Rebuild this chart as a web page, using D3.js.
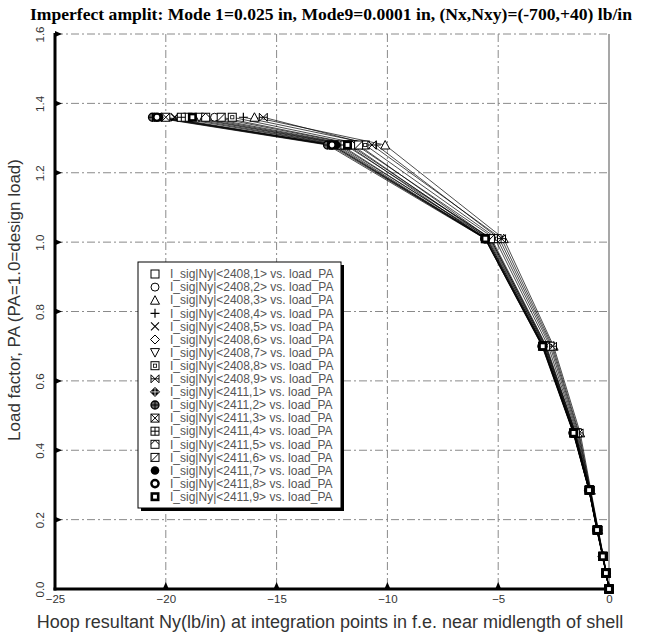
<!DOCTYPE html>
<html><head><meta charset="utf-8">
<script src="https://cdn.jsdelivr.net/npm/d3@7"></script>
<style>body{margin:0;background:#fff}svg{display:block}</style>
</head><body>
<script>
// ---- data ----
const titleText = "Imperfect amplit: Mode 1=0.025 in, Mode9=0.0001 in, (Nx,Nxy)=(-700,+40) lb/in";
const xLabel = "Hoop resultant Ny(lb/in) at integration points in f.e. near midlength of shell";
const yLabel = "Load factor, PA (PA=1.0=design load)";
const xTicks = [-25, -20, -15, -10, -5, 0];
const yTicks = [0.0, 0.2, 0.4, 0.6, 0.8, 1.0, 1.2, 1.4, 1.6];
const loads = [0, 0.046, 0.094, 0.17, 0.285, 0.45, 0.70, 1.01, 1.28, 1.36];
const seriesNames = [
  "I_sig|Ny|<2408,1> vs. load_PA","I_sig|Ny|<2408,2> vs. load_PA","I_sig|Ny|<2408,3> vs. load_PA",
  "I_sig|Ny|<2408,4> vs. load_PA","I_sig|Ny|<2408,5> vs. load_PA","I_sig|Ny|<2408,6> vs. load_PA",
  "I_sig|Ny|<2408,7> vs. load_PA","I_sig|Ny|<2408,8> vs. load_PA","I_sig|Ny|<2408,9> vs. load_PA",
  "I_sig|Ny|<2411,1> vs. load_PA","I_sig|Ny|<2411,2> vs. load_PA","I_sig|Ny|<2411,3> vs. load_PA",
  "I_sig|Ny|<2411,4> vs. load_PA","I_sig|Ny|<2411,5> vs. load_PA","I_sig|Ny|<2411,6> vs. load_PA",
  "I_sig|Ny|<2411,7> vs. load_PA","I_sig|Ny|<2411,8> vs. load_PA","I_sig|Ny|<2411,9> vs. load_PA"
];
const ny_2408_1 = [0,-0.13,-0.27,-0.52,-0.88,-1.50,-2.82,-5.30,-11.9,-19.0];
const ny_2408_2 = [0,-0.13,-0.27,-0.51,-0.87,-1.46,-2.74,-5.15,-11.4,-17.8];
const ny_2408_3 = [0,-0.12,-0.25,-0.48,-0.82,-1.30,-2.50,-4.75,-10.1,-16.0];
const ny_2408_4 = [0,-0.13,-0.26,-0.50,-0.85,-1.38,-2.60,-4.95,-10.5,-16.5];
const ny_2408_5 = [0,-0.14,-0.28,-0.53,-0.89,-1.55,-2.90,-5.40,-12.2,-19.6];
const ny_2408_6 = [0,-0.14,-0.28,-0.54,-0.90,-1.58,-2.95,-5.50,-12.5,-20.2];
const ny_2408_7 = [0,-0.13,-0.27,-0.52,-0.88,-1.52,-2.85,-5.35,-11.7,-18.5];
const ny_2408_8 = [0,-0.13,-0.26,-0.50,-0.86,-1.42,-2.66,-5.05,-11.0,-17.0];
const ny_2408_9 = [0,-0.12,-0.26,-0.49,-0.84,-1.35,-2.55,-4.85,-10.7,-15.6];
const ny_2411_1 = [0,-0.14,-0.28,-0.54,-0.90,-1.60,-2.98,-5.55,-12.6,-20.5];
const ny_2411_2 = [0,-0.14,-0.29,-0.55,-0.91,-1.62,-3.02,-5.60,-12.7,-20.6];
const ny_2411_3 = [0,-0.14,-0.28,-0.54,-0.90,-1.60,-3.00,-5.58,-12.4,-20.0];
const ny_2411_4 = [0,-0.14,-0.28,-0.53,-0.89,-1.57,-2.94,-5.50,-12.1,-19.3];
const ny_2411_5 = [0,-0.14,-0.28,-0.53,-0.89,-1.55,-2.90,-5.45,-11.6,-18.2];
const ny_2411_6 = [0,-0.13,-0.27,-0.52,-0.88,-1.52,-2.86,-5.35,-11.3,-17.5];
const ny_2411_7 = [0,-0.14,-0.28,-0.54,-0.90,-1.59,-2.96,-5.55,-12.3,-20.3];
const ny_2411_8 = [0,-0.14,-0.29,-0.55,-0.91,-1.61,-3.01,-5.60,-12.5,-20.4];
const ny_2411_9 = [0,-0.14,-0.28,-0.54,-0.90,-1.60,-2.99,-5.58,-11.8,-18.8];
const seriesValues = [ny_2408_1,ny_2408_2,ny_2408_3,ny_2408_4,ny_2408_5,ny_2408_6,ny_2408_7,ny_2408_8,ny_2408_9,
  ny_2411_1,ny_2411_2,ny_2411_3,ny_2411_4,ny_2411_5,ny_2411_6,ny_2411_7,ny_2411_8,ny_2411_9];
const markerTypes = ["square","circle","triangle","plus","x","diamond","triangleDown","squareDot","bowtie",
  "club","circlePlus","squareX","squarePlus","squareTri","squareSlash","circleFilled","ring","squareThick"];

// ---- layout ----
const W = 648, H = 636;
const m = {left:55, right:609, top:34, bottom:589};
const svg = d3.select("body").append("svg").attr("width",W).attr("height",H)
  .style("font-family","'Liberation Sans', Arial, sans-serif");
const x = d3.scaleLinear().domain([-25,0]).range([m.left,m.right]);
const y = d3.scaleLinear().domain([0,1.6]).range([m.bottom,m.top]);

// grid
const grid = svg.append("g").attr("stroke","#8a8a8a").attr("stroke-width",1).attr("stroke-dasharray","8,3,2,3");
grid.selectAll("line.v").data(xTicks.filter(d=>d>-25 && d<0)).join("line")
  .attr("x1",d=>x(d)).attr("x2",d=>x(d)).attr("y1",m.top).attr("y2",m.bottom);
grid.selectAll("line.h").data(yTicks.filter(d=>d>0)).join("line")
  .attr("x1",m.left).attr("x2",m.right).attr("y1",d=>y(d)).attr("y2",d=>y(d));
// right border
svg.append("line").attr("x1",m.right).attr("x2",m.right).attr("y1",m.top).attr("y2",m.bottom)
  .attr("stroke","#8a8a8a").attr("stroke-width",1.5);

// axes via d3
const xAxis = svg.append("g").attr("transform",`translate(0,${m.bottom})`)
  .call(d3.axisBottom(x).tickValues(xTicks).tickFormat(d3.format("d")).tickSize(0).tickPadding(6));
xAxis.select(".domain").remove();
xAxis.selectAll("text").attr("font-size",11.5).attr("fill","#333").attr("font-family","'Liberation Sans', Arial, sans-serif");
const yAxis = svg.append("g").attr("transform",`translate(${m.left},0)`)
  .call(d3.axisLeft(y).tickValues(yTicks).tickFormat(d3.format(".1f")).tickSize(0));
yAxis.select(".domain").remove();
yAxis.selectAll("text").attr("x",0).attr("dy",null).attr("text-anchor","middle")
  .attr("transform","translate(-11,0) rotate(-90)")
  .attr("font-size",11.5).attr("fill","#333").attr("font-family","'Liberation Sans', Arial, sans-serif");

// tick triangles
svg.append("g").selectAll("path").data(xTicks.filter(d=>d>-25)).join("path")
  .attr("d",d=>`M${x(d)-3},${m.bottom} L${x(d)+3},${m.bottom} L${x(d)},${m.bottom-7} Z`).attr("fill","#000");
svg.append("g").selectAll("path").data(yTicks.filter(d=>d>0)).join("path")
  .attr("d",d=>`M${m.left},${y(d)-3} L${m.left},${y(d)+3} L${m.left+7},${y(d)} Z`).attr("fill","#000");

// main axis lines
svg.append("line").attr("x1",m.left).attr("x2",m.left).attr("y1",m.top-1).attr("y2",m.bottom+1.5)
  .attr("stroke","#000").attr("stroke-width",3);
svg.append("line").attr("x1",m.left-1.5).attr("x2",m.right+1).attr("y1",m.bottom).attr("y2",m.bottom)
  .attr("stroke","#000").attr("stroke-width",3);

// marker drawing
function marker(g, type){
  const r = 4;
  const sq = () => g.append("rect").attr("x",-r).attr("y",-r).attr("width",2*r).attr("height",2*r).attr("fill","#fff").attr("stroke","#000");
  switch(type){
    case "square": sq(); break;
    case "circle": g.append("circle").attr("r",r).attr("fill","#fff").attr("stroke","#000"); break;
    case "triangle": g.append("path").attr("d",`M0,${-r-0.5} L${r+0.5},${r} L${-r-0.5},${r} Z`).attr("fill","#fff").attr("stroke","#000"); break;
    case "triangleDown": g.append("path").attr("d",`M0,${r+0.5} L${r+0.5},${-r} L${-r-0.5},${-r} Z`).attr("fill","#fff").attr("stroke","#000"); break;
    case "plus": g.append("path").attr("d",`M${-r-0.5},0 H${r+0.5} M0,${-r-0.5} V${r+0.5}`).attr("stroke","#000").attr("stroke-width",1.2); break;
    case "x": g.append("path").attr("d",`M${-r},${-r} L${r},${r} M${r},${-r} L${-r},${r}`).attr("stroke","#000").attr("stroke-width",1.1); break;
    case "diamond": g.append("path").attr("d",`M0,${-r-0.5} L${r+0.5},0 L0,${r+0.5} L${-r-0.5},0 Z`).attr("fill","#fff").attr("stroke","#000"); break;
    case "squareDot": sq(); g.append("rect").attr("x",-1.6).attr("y",-1.6).attr("width",3.2).attr("height",3.2).attr("fill","none").attr("stroke","#000").attr("stroke-width",0.8); break;
    case "bowtie": g.append("path").attr("d",`M${-r},${-r} L0,0 L${-r},${r} Z M${r},${-r} L0,0 L${r},${r} Z M${-r},0 H${r}`).attr("fill","#fff").attr("stroke","#000"); break;
    case "club": g.append("path").attr("d",`M0,${-r-0.5} L${r+0.5},0 L0,${r+0.5} L${-r-0.5},0 Z`).attr("fill","#000").attr("stroke","#000");
      g.append("path").attr("d",`M${-r},0 H${r} M0,${-r} V${r}`).attr("stroke","#fff").attr("stroke-width",0.8); break;
    case "circlePlus": g.append("circle").attr("r",r).attr("fill","#666").attr("stroke","#000").attr("stroke-width",1.3);
      g.append("path").attr("d",`M${-r},0 H${r} M0,${-r} V${r}`).attr("stroke","#000").attr("stroke-width",1); break;
    case "squareX": sq(); g.append("path").attr("d",`M${-r},${-r} L${r},${r} M${r},${-r} L${-r},${r}`).attr("stroke","#000"); break;
    case "squarePlus": sq(); g.append("path").attr("d",`M${-r},0 H${r} M0,${-r} V${r}`).attr("stroke","#000"); break;
    case "squareTri": sq(); g.append("path").attr("d",`M${-r},0 L0,${-r} L${r},0`).attr("fill","none").attr("stroke","#000"); break;
    case "squareSlash": sq(); g.append("path").attr("d",`M${-r},${r} L${r},${-r}`).attr("stroke","#000"); break;
    case "circleFilled": g.append("circle").attr("r",r+0.3).attr("fill","#000"); break;
    case "ring": g.append("circle").attr("r",r-0.4).attr("fill","#fff").attr("stroke","#000").attr("stroke-width",2.4); break;
    case "squareThick": g.append("rect").attr("x",-r+0.8).attr("y",-r+0.8).attr("width",2*r-1.6).attr("height",2*r-1.6).attr("fill","#fff").attr("stroke","#000").attr("stroke-width",2.6); break;
  }
}

// lines
const line = d3.line().x(d=>x(d[0])).y(d=>y(d[1]));
const plot = svg.append("g");
seriesValues.forEach((vals,i)=>{
  const pts = vals.map((v,j)=>[v, loads[j]]);
  plot.append("path").attr("d",line(pts)).attr("fill","none").attr("stroke","#000").attr("stroke-width",0.7);
});
seriesValues.forEach((vals,i)=>{
  vals.forEach((v,j)=>{
    const g = plot.append("g").attr("transform",`translate(${x(v)},${y(loads[j])})`);
    marker(g, markerTypes[i]);
  });
});

// legend
const lg = svg.append("g");
const lx = 138, ly = 262, lw = 203, lh = 246;
lg.append("rect").attr("x",lx+3).attr("y",ly+3).attr("width",lw).attr("height",lh).attr("fill","#000");
lg.append("rect").attr("x",lx).attr("y",ly).attr("width",lw).attr("height",lh).attr("fill","#fff").attr("stroke","#000").attr("stroke-width",1);
seriesNames.forEach((name,i)=>{
  const yy = ly + 12 + i*13.1;
  const g = lg.append("g").attr("transform",`translate(${lx+17},${yy})`);
  marker(g, markerTypes[i]);
  lg.append("text").attr("x",lx+32).attr("y",yy+4.2).attr("font-size",12).attr("fill","#555").text(name);
});

// title and labels
svg.append("text").attr("x",331).attr("y",20).attr("text-anchor","middle")
  .attr("font-family","'Liberation Serif', 'Times New Roman', serif").attr("font-weight","bold").attr("font-size",17.6).text(titleText);
svg.append("text").attr("x",330).attr("y",628).attr("text-anchor","middle").attr("font-size",18).attr("fill","#333").text(xLabel);
svg.append("text").attr("transform","translate(20,300) rotate(-90)").attr("text-anchor","middle").attr("font-size",17).attr("fill","#333").text(yLabel);
</script>
</body></html>
